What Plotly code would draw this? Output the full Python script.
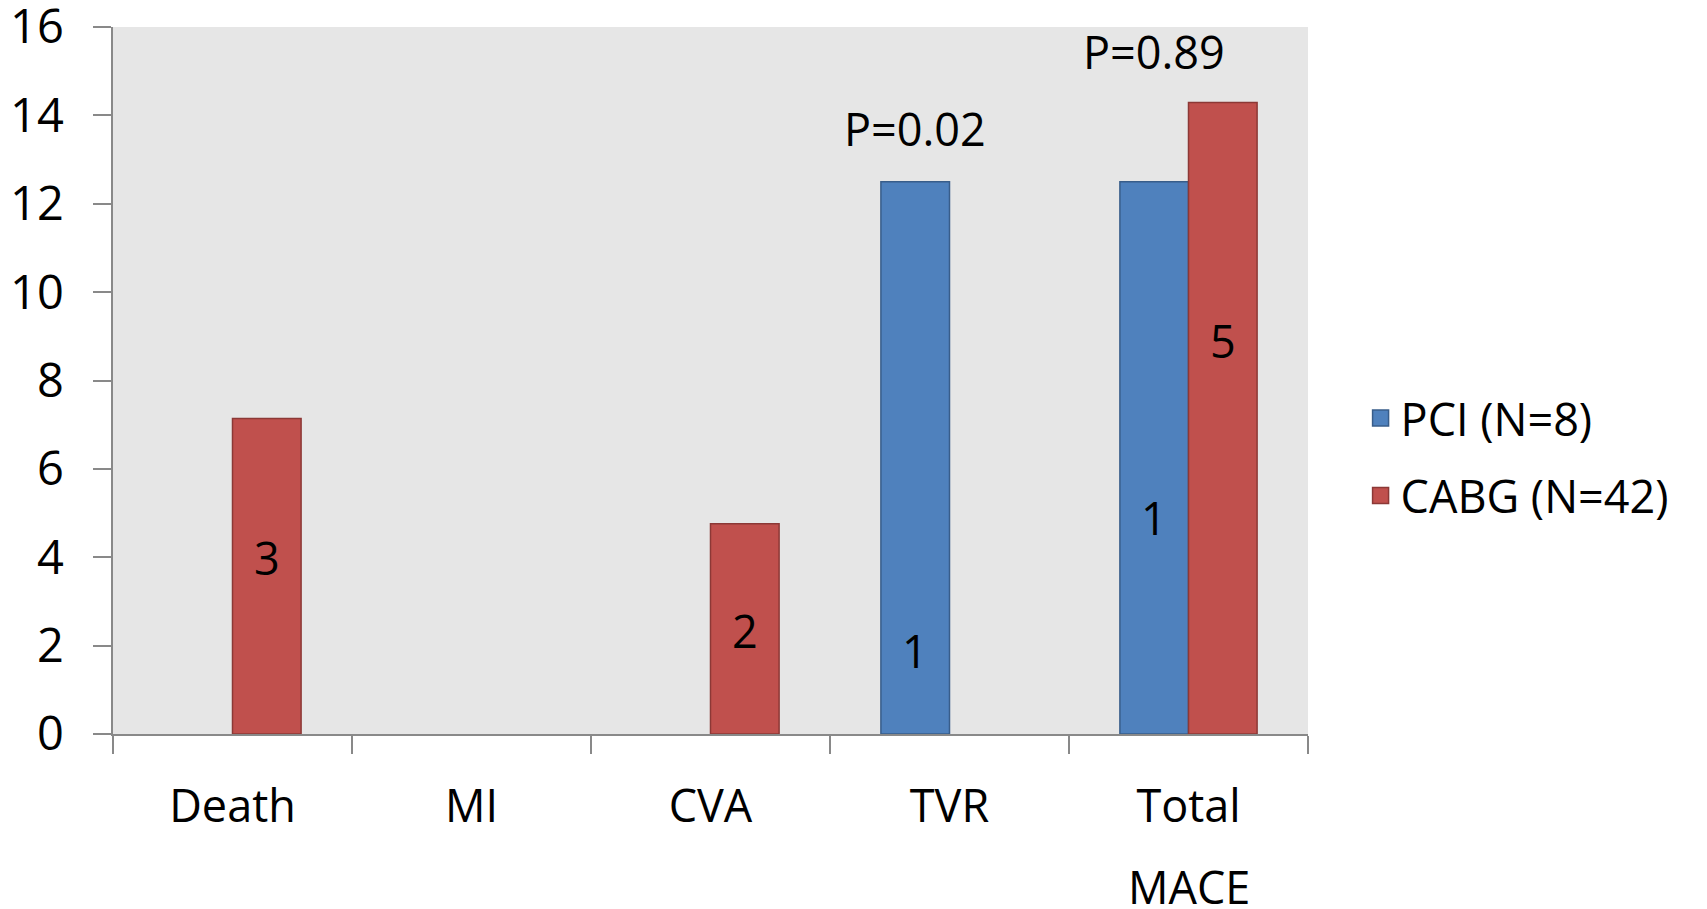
import plotly.graph_objects as go

categories = ["Death", "MI", "CVA", "TVR", "Total MACE"]
tick_labels = ["Death", "MI", "CVA", "TVR", "Total"]
pci_values = [0, 0, 0, 12.5, 12.5]
cabg_values = [7.14, 0, 4.76, 0, 14.29]
pci_counts = ["", "", "", "1", "1"]
cabg_counts = ["3", "", "2", "", "5"]
pci_label_y = [None, None, None, 1.9, 4.9]
cabg_label_y = [4.0, None, 2.35, None, 8.9]
p_labels = [("TVR", "P=0.02", 13.7), ("Total MACE", "P=0.89", 15.45)]

FONT = "Open Sans"
FS = 45
BARGAP = 0.426
half = (1 - BARGAP) / 4
PCI_FILL, PCI_LINE = "#4F81BD", "#385D8A"
CABG_FILL, CABG_LINE = "#C0504D", "#8C3836"

def nz(vals):
    return [v if v else None for v in vals]

fig = go.Figure()
fig.add_trace(go.Bar(x=categories, y=nz(pci_values), name="PCI (N=8)",
                     marker=dict(color=PCI_FILL, line=dict(color=PCI_LINE, width=1.5)),
                     showlegend=False))
fig.add_trace(go.Bar(x=categories, y=nz(cabg_values), name="CABG (N=42)",
                     marker=dict(color=CABG_FILL, line=dict(color=CABG_LINE, width=1.5)),
                     showlegend=False))
# legend entries with larger square symbols
fig.add_trace(go.Scatter(x=[None], y=[None], mode="markers", name="PCI (N=8)",
                         marker=dict(symbol="square", size=28, color=PCI_FILL,
                                     line=dict(color=PCI_LINE, width=1.5)),
                         legendgroup="a"))
fig.add_trace(go.Scatter(x=[None], y=[None], mode="markers", name="CABG (N=42)",
                         marker=dict(symbol="square", size=28, color=CABG_FILL,
                                     line=dict(color=CABG_LINE, width=1.5)),
                         legendgroup="b"))

annotations = []
for i, (t, yv) in enumerate(zip(pci_counts, pci_label_y)):
    if t:
        annotations.append(dict(x=i - half, y=yv, text=t, showarrow=False,
                                font=dict(size=FS, color="black", family=FONT)))
for i, (t, yv) in enumerate(zip(cabg_counts, cabg_label_y)):
    if t:
        annotations.append(dict(x=i + half, y=yv, text=t, showarrow=False,
                                font=dict(size=FS, color="black", family=FONT)))
for cat, txt, yv in p_labels:
    i = categories.index(cat)
    annotations.append(dict(x=i - half, y=yv, text=txt, showarrow=False,
                            font=dict(size=FS, color="black", family=FONT)))
annotations.append(dict(x=4, y=-0.215, yref="paper", text="MACE", showarrow=False,
                        yanchor="middle", font=dict(size=FS, color="black", family=FONT)))

fig.update_layout(
    width=1699, height=901,
    margin=dict(l=105, r=399, t=19, b=175, autoexpand=False),
    plot_bgcolor="#E6E6E6", paper_bgcolor="white",
    barmode="group", bargap=BARGAP, bargroupgap=0,
    font=dict(family=FONT, size=FS, color="black"),
    legend=dict(x=1.044, xanchor="left", y=0.392, yanchor="middle",
                font=dict(size=FS, family=FONT), tracegroupgap=16,
                traceorder="grouped", itemsizing="trace"),
    annotations=annotations,
    xaxis=dict(tickmode="array", tickvals=categories, ticktext=tick_labels,
               tickson="boundaries", ticks="outside", ticklen=18, tickwidth=1.5,
               tickcolor="#898989", showline=True, linecolor="#898989", linewidth=1.5,
               showgrid=False, ticklabelstandoff=32, automargin=False,
               tickfont=dict(size=FS, family=FONT)),
    yaxis=dict(range=[0, 16], dtick=2, ticks="outside", ticklen=18, tickwidth=1.5,
               tickcolor="#898989", showline=True, linecolor="#898989", linewidth=1.5,
               showgrid=False, zeroline=False, ticklabelstandoff=20, automargin=False,
               ticklabeloverflow="allow",
               tickfont=dict(size=FS + 2, family=FONT)),
)

fig.write_html("out.html")
